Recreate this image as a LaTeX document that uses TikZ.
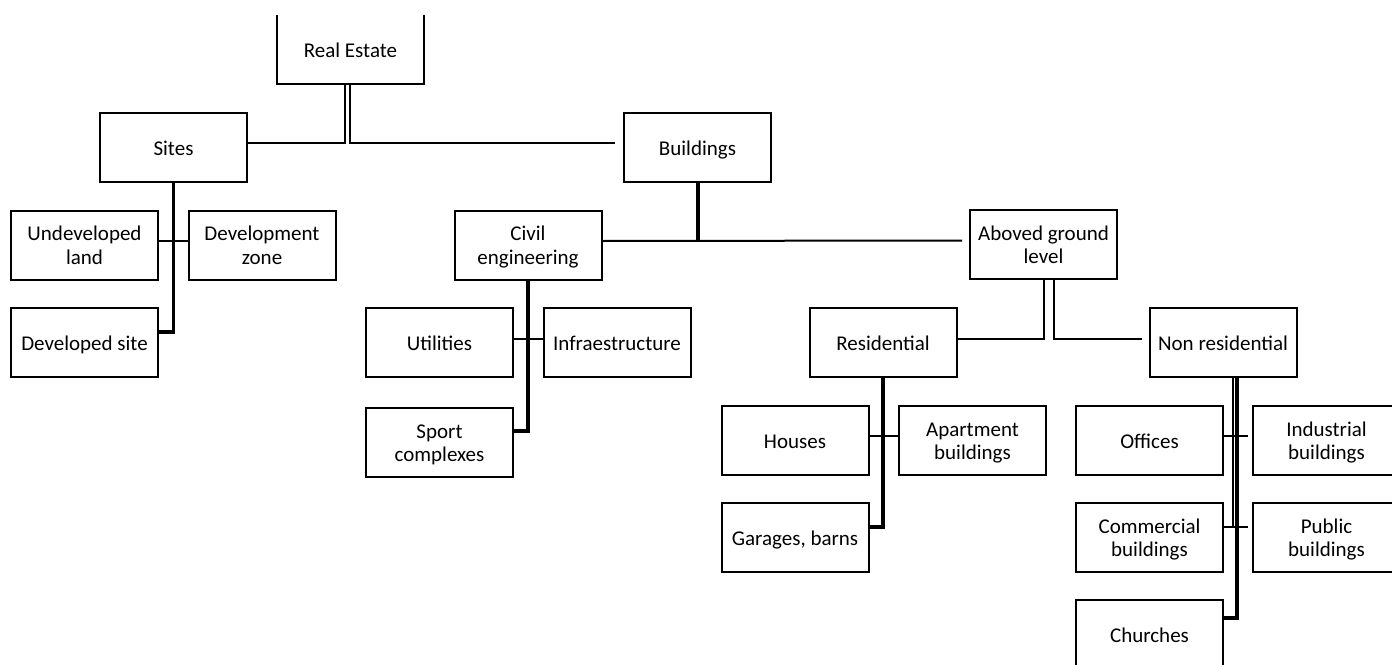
\documentclass[tikz,border=0pt]{standalone}
\usepackage{fontspec}
\setmainfont{Carlito}
\usepackage{xcolor}
\definecolor{boxline}{RGB}{0, 0, 0}
% text sits a little below the box centre
\newcommand{\boxlabel}[1]{\raisebox{0pt}[\dimexpr\height+6pt\relax][\depth]{\begin{tabular}{@{}c@{}}#1\end{tabular}}}

\begin{document}
\begin{tikzpicture}[x=1pt,y=-1pt,
    box/.style={draw=boxline,line width=2pt,minimum width=147pt,minimum height=69pt,
      inner sep=0pt,outer sep=0pt,font=\fontsize{21}{23.5}\selectfont},
    conn/.style={draw=boxline,line width=2pt},
    thickconn/.style={draw=boxline,line width=3.2pt}]
    \useasboundingbox (0,0) rectangle (1392,664);
    \clip (0,0) rectangle (1392,664);
        % top box, open at the top
        \node[box,draw=none] (realestate) at (350.5,49.5) {\boxlabel{Real Estate}};
        \draw[conn] (realestate.north west) |- (realestate.south east) -- (realestate.north east);
        \foreach \name/\xx/\yy/\txt in {
            sites/173.5/147.5/Sites, buildings/697.5/147.5/Buildings,
            undev/84.5/245/{Undeveloped\\land}, devzone/262/245/{Development\\zone},
            devsite/84.5/342.5/{Developed site},
            civil/528/245/{Civil\\engineering}, aboved/1043.5/244.5/{Aboved ground\\level},
            utilities/439.5/342.5/Utilities, infra/617/342.5/Infraestructure,
            sport/439.5/442.5/{Sport\\complexes},
            residential/883/342.5/Residential, nonres/1223/342.5/{Non residential},
            houses/795/440.5/Houses, apartment/972.5/440.5/{Apartment\\buildings},
            garages/795/537.5/{Garages, barns},
            offices/1149.5/440.5/Offices, industrial/1326.5/440.5/{Industrial\\buildings},
            commercial/1149.5/537.5/{Commercial\\buildings}, public/1326.5/537.5/{Public\\buildings},
            churches/1149.5/634.5/Churches} {
            \node[box] (\name) at (\xx,\yy) {\boxlabel{\txt}};
        }
        % real estate -> sites, buildings
        \draw[conn] ([xshift=-5.5pt]realestate.south) |- ([yshift=4.5pt]sites.east);
        \draw[conn] ([xshift=-0.5pt]realestate.south) |- ([xshift=-9pt,yshift=4.5pt]buildings.west);
        % sites
        \draw[thickconn] (sites.south) |- ([yshift=10.5pt]devsite.east);
        \draw[conn] ([yshift=4pt]undev.east) -- ([yshift=4pt]devzone.west);
        % buildings
        \coordinate (bjoin) at ([yshift=4pt]civil.east);
        \draw[conn] (bjoin) -- ([xshift=-8pt,yshift=4pt]aboved.west);
        \draw[line width=4pt] (buildings.south) -- (buildings.south |- bjoin);
        % civil engineering
        \draw[thickconn] (civil.south) |- ([yshift=11.5pt]sport.east);
        \draw[conn] ([yshift=4pt]utilities.east) -- ([yshift=4pt]infra.west);
        % aboved ground level
        \draw[conn] ([xshift=0.5pt]aboved.south) |- ([yshift=4pt]residential.east);
        \draw[conn] ([xshift=10.5pt]aboved.south) |- ([xshift=-8pt,yshift=4pt]nonres.west);
        % residential
        \draw[thickconn] (residential.south) |- ([yshift=10.5pt]garages.east);
        \draw[conn] ([yshift=4.5pt]houses.east) -- ([yshift=4.5pt]apartment.west);
        % non residential
        \coordinate (cjoin) at ([yshift=10.5pt]commercial.east);
        \draw[conn] ([xshift=10pt]nonres.south) -- ([xshift=10pt]nonres.south |- cjoin);
        \draw[thickconn] ([xshift=14pt]nonres.south) |- ([yshift=16.5pt]churches.east);
        \draw[conn] ([yshift=4.5pt]offices.east) -- ([xshift=-5pt,yshift=4.5pt]industrial.west);
        \draw[conn] (cjoin) -- ([xshift=-5pt,yshift=10.5pt]public.west);
    \end{tikzpicture}
\end{document}
